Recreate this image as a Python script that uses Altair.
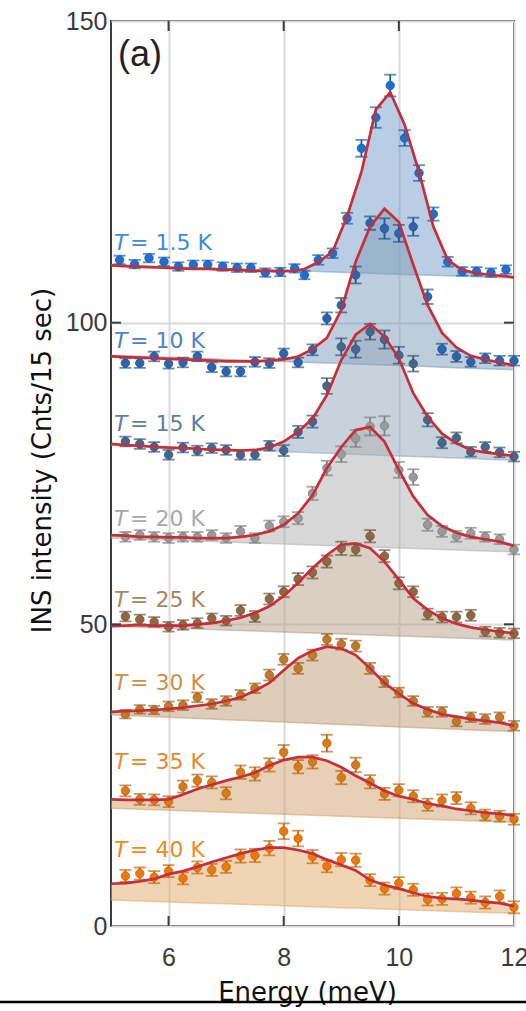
import pandas as pd
import altair as alt

# ---------------------------------------------------------------------------
# Energy transfer grids (meV)
# ---------------------------------------------------------------------------
energy_1p5K = [5.15, 5.41, 5.66, 5.92, 6.17, 6.43, 6.68, 6.94, 7.19, 7.43,
               7.68, 7.94, 8.19, 8.36, 8.60, 8.85, 9.10, 9.35, 9.60, 9.85,
               10.10, 10.35, 10.60, 10.85, 11.10, 11.35, 11.60, 11.86]
energy = [5.25, 5.5, 5.75, 6.0, 6.25, 6.5, 6.75, 7.0, 7.25, 7.5,
          7.75, 8.0, 8.25, 8.5, 8.75, 9.0, 9.25, 9.5, 9.75, 10.0,
          10.25, 10.5, 10.75, 11.0, 11.25, 11.5, 11.75, 12.0]
fit_energy_1p5K = [5.0] + energy_1p5K + [12.0]
fit_energy = [5.0] + energy

temps = ["1.5", "10", "15", "20", "25", "30", "35", "40"]

# Measured intensities (vertically offset per temperature)
counts = {
    "1.5": [110.4, 109.7, 110.7, 110.1, 109.3, 109.6, 109.6, 109.3, 109.1, 109.1,
            108.3, 108.4, 109.0, 107.9, 110.4, 111.5, 117.3, 128.9, 134.0, 139.3,
            130.6, 124.8, 118.0, 110.1, 108.5, 108.5, 108.3, 108.8],
    "10": [93.3, 93.3, 94.4, 93.2, 93.4, 94.4, 92.6, 91.9, 91.9, 93.5,
           93.3, 94.9, 93.4, 95.5, 100.7, 102.9, 107.9, 116.5, 115.6, 114.8,
           115.9, 104.3, 95.6, 94.4, 93.5, 94.1, 93.7, 93.7],
    "15": [80.3, 79.9, 79.4, 78.1, 79.3, 78.8, 79.2, 78.9, 78.1, 78.1,
           79.6, 78.8, 81.9, 83.6, 89.5, 96.0, 95.6, 98.5, 97.2, 94.6,
           93.2, 83.9, 80.1, 80.9, 78.6, 79.4, 78.5, 77.8],
    "20": [64.5, 64.8, 64.5, 64.3, 64.5, 64.5, 64.8, 64.3, 65.4, 64.3,
           66.3, 67.0, 67.6, 71.7, 75.9, 78.2, 80.8, 82.8, 82.9, 75.6,
           74.4, 66.5, 65.4, 64.6, 65.1, 64.5, 64.1, 62.4],
    "25": [51.3, 50.8, 50.4, 49.6, 49.9, 50.2, 51.0, 50.6, 52.3, 51.3,
           54.2, 55.4, 57.5, 58.6, 60.4, 62.6, 62.4, 64.6, 61.3, 56.8,
           55.4, 51.7, 51.2, 51.2, 51.5, 48.8, 48.6, 48.5],
    "30": [35.1, 35.9, 35.8, 36.4, 36.6, 37.9, 36.8, 37.3, 38.3, 39.4,
           41.6, 44.2, 42.7, 44.9, 47.5, 46.7, 46.4, 42.7, 40.5, 38.7,
           37.3, 35.5, 35.5, 33.9, 34.6, 34.3, 34.6, 33.2],
    "35": [22.4, 21.0, 20.9, 20.6, 23.1, 24.1, 23.8, 22.0, 25.5, 25.2,
           26.7, 28.8, 26.4, 27.2, 30.3, 24.6, 26.7, 23.9, 21.9, 22.5,
           21.5, 20.1, 20.8, 21.2, 19.5, 18.4, 18.2, 17.7],
    "40": [8.3, 8.7, 8.1, 9.1, 7.9, 9.7, 9.3, 9.8, 11.6, 11.7,
           12.9, 15.7, 14.5, 11.5, 9.9, 11.0, 10.9, 7.6, 6.2, 7.1,
           6.0, 4.4, 4.5, 5.4, 4.7, 3.9, 4.9, 3.1],
}

# Statistical error bars
errors = {
    "1.5": [0.7, 0.7, 0.7, 0.7, 0.7, 0.7, 0.7, 0.7, 0.7, 0.7, 0.7, 0.7, 0.7, 0.7,
            0.8, 0.8, 0.9, 1.4, 1.7, 1.8, 1.3, 1.3, 1.1, 0.8, 0.7, 0.7, 0.7, 0.7],
    "10": [0.8, 0.8, 0.8, 0.8, 0.8, 0.8, 0.8, 0.8, 0.8, 0.8, 0.8, 0.8, 0.8, 0.9,
           1.0, 1.2, 1.4, 1.1, 1.7, 1.4, 1.5, 1.2, 0.9, 0.9, 0.8, 0.8, 0.8, 0.8],
    "15": [0.8, 0.8, 0.8, 0.8, 0.8, 0.8, 0.8, 0.8, 0.8, 0.8, 0.8, 0.9, 1.0, 1.0,
           1.3, 1.4, 1.4, 1.3, 1.5, 1.4, 1.3, 1.1, 0.9, 0.9, 0.8, 0.8, 0.8, 0.8],
    "20": [0.8, 0.8, 0.8, 0.8, 0.8, 0.8, 0.8, 0.8, 0.9, 0.8, 0.9, 0.9, 1.0, 1.1,
           1.2, 1.3, 1.4, 1.5, 1.6, 1.3, 1.3, 1.0, 0.9, 0.9, 0.9, 0.8, 0.8, 0.8],
    "25": [0.8, 0.8, 0.8, 0.8, 0.8, 0.8, 0.8, 0.8, 0.9, 0.9, 0.9, 0.9, 1.0, 1.0,
           1.0, 1.1, 1.0, 1.0, 1.0, 1.0, 0.9, 0.9, 0.9, 0.9, 0.9, 0.8, 0.8, 0.8],
    "30": [0.7, 0.7, 0.7, 0.8, 0.8, 0.8, 0.8, 0.8, 0.8, 0.8, 0.9, 0.9, 0.9, 0.9,
           0.9, 0.9, 0.9, 0.9, 0.9, 0.8, 0.8, 0.8, 0.8, 0.8, 0.8, 0.8, 0.8, 0.8],
    "35": [0.9, 0.9, 0.9, 0.9, 1.0, 1.0, 1.0, 1.0, 1.1, 1.1, 1.1, 1.2, 1.1, 1.1,
           1.4, 1.1, 1.2, 1.1, 1.0, 1.0, 1.0, 1.0, 1.0, 1.0, 1.0, 0.9, 0.9, 0.9],
    "40": [1.0, 1.0, 1.0, 1.0, 1.0, 1.0, 1.0, 1.0, 1.1, 1.1, 1.2, 1.3, 1.3, 1.1,
           1.0, 1.1, 1.1, 1.0, 1.0, 1.0, 1.0, 1.0, 1.0, 1.0, 1.0, 1.0, 1.0, 1.0],
}

# Fitted line shapes (background + mode)
fits = {
    "1.5": [109.5, 109.4, 109.3, 109.2, 109.1, 109.0, 108.9, 108.9, 108.8, 108.8,
            108.6, 108.6, 108.5, 108.6, 108.9, 110.0, 111.8, 117.6, 125.0, 135.3,
            138.2, 132.8, 125.0, 115.9, 110.4, 108.7, 108.2, 107.9, 107.7, 107.5],
    "10": [94.4, 94.3, 94.2, 94.1, 94.0, 93.9, 93.8, 93.7, 93.6, 93.6,
           93.6, 93.7, 93.9, 94.4, 95.6, 97.5, 102.1, 110.1, 115.9, 118.9,
           116.7, 109.6, 102.9, 98.3, 95.9, 94.5, 93.9, 93.4, 92.9],
    "15": [79.9, 79.7, 79.6, 79.4, 79.3, 79.2, 79.1, 78.9, 78.9, 78.8,
           78.9, 79.3, 80.3, 81.9, 84.1, 88.0, 93.8, 98.0, 99.8, 97.7,
           94.1, 88.3, 84.4, 81.6, 80.0, 78.9, 78.5, 78.2, 77.9],
    "20": [64.8, 64.7, 64.5, 64.5, 64.4, 64.4, 64.3, 64.3, 64.3, 64.5,
           64.8, 65.4, 66.5, 68.4, 71.4, 75.9, 79.4, 82.2, 82.7, 80.3,
           75.6, 71.2, 68.1, 66.3, 65.2, 64.5, 64.1, 63.7, 63.0],
    "25": [49.7, 49.8, 49.9, 49.8, 49.8, 49.8, 50.0, 50.2, 50.6, 51.1,
           51.9, 53.0, 54.7, 56.9, 59.3, 61.5, 63.2, 63.4, 62.6, 60.4,
           57.4, 54.3, 52.4, 51.0, 50.1, 49.5, 49.1, 48.8, 48.5],
    "30": [35.5, 35.6, 35.7, 35.8, 36.0, 36.2, 36.5, 36.8, 37.3, 37.9,
           39.0, 40.3, 42.4, 44.4, 45.6, 46.3, 46.0, 44.9, 42.7, 40.3,
           38.5, 36.9, 35.9, 35.1, 34.7, 34.3, 34.0, 33.7, 33.2],
    "35": [21.0, 20.9, 20.9, 20.9, 21.0, 21.8, 22.7, 23.4, 24.1, 24.7,
           25.4, 26.6, 27.5, 28.0, 28.0, 27.4, 26.3, 24.9, 23.7, 22.4,
           21.5, 21.0, 20.3, 19.9, 19.4, 19.1, 18.8, 18.6, 18.3],
    "40": [7.0, 7.1, 7.4, 7.8, 8.6, 9.1, 9.8, 10.6, 11.3, 12.0,
           12.6, 13.0, 13.0, 12.6, 12.0, 11.0, 10.1, 9.2, 7.6, 6.8,
           6.2, 5.5, 4.9, 4.6, 4.5, 4.3, 4.0, 3.8, 3.3],
}

# Linear background of each fit at 5 and 12 meV
background = {
    "1.5": (109.6, 107.4), "10": (94.6, 92.2), "15": (79.7, 77.2),
    "20": (64.3, 62.0), "25": (49.7, 47.4), "30": (35.0, 32.2),
    "35": (19.5, 17.2), "40": (4.3, 2.1),
}

# Styling per temperature
point_color = {"1.5": "#1f6fd0", "10": "#2c64ad", "15": "#44678e", "20": "#9a9a9a",
               "25": "#8c6944", "30": "#c0782a", "35": "#d97a18", "40": "#ea780c"}
edge_color = {"1.5": "#1a5ea8", "10": "#24548e", "15": "#385675", "20": "#808080",
              "25": "#74573a", "30": "#9f6425", "35": "#b86616", "40": "#c8680c"}
label_color = {"1.5": "#3d8be0", "10": "#4a84c6", "15": "#5d7fa3", "20": "#a9a9a9",
               "25": "#a8865f", "30": "#cf8f45", "35": "#e58b2e", "40": "#f08a1c"}
fill_color = {"1.5": "#739dc9", "10": "#7d9bb9", "15": "#91a5b9", "20": "#afafaf",
              "25": "#b59f87", "30": "#bd9b73", "35": "#d1a16d", "40": "#e1a969"}
# Baseline of each temperature label, in intensity units
label_anchor = {"1.5": 112.05, "10": 95.8, "15": 82.05, "20": 66.3,
                "25": 52.9, "30": 39.1, "35": 26.0, "40": 11.5}

# ---------------------------------------------------------------------------
# Tables
# ---------------------------------------------------------------------------
obs_rows, fit_rows, lab_rows = [], [], []
for t in temps:
    E = energy_1p5K if t == "1.5" else energy
    FE = fit_energy_1p5K if t == "1.5" else fit_energy
    for e, c, s in zip(E, counts[t], errors[t]):
        obs_rows.append(dict(T=t, E=e, I=c, lo=c - s, hi=c + s,
                             pc=point_color[t], ec=edge_color[t]))
    b0, b1 = background[t]
    for e, f in zip(FE, fits[t]):
        fit_rows.append(dict(T=t, E=e, fit=f, bg=b0 + (b1 - b0) * (e - 5.0) / 7.0,
                             fc=fill_color[t]))
    lab_rows.append(dict(T=t, txt=f"= {t} K", ly=label_anchor[t], lc=label_color[t]))

obs = pd.DataFrame(obs_rows)
fit = pd.DataFrame(fit_rows)
labels = pd.DataFrame(lab_rows)

W, H = 403, 905
XTITLE = "Energy (meV)"
YTITLE = "INS intensity (Cnts/15 sec)"

xscale = alt.Scale(domain=[5, 12], nice=False, zero=False)
yscale = alt.Scale(domain=[0, 150], nice=False, zero=False)

xaxis = alt.Axis(values=[6, 8, 10, 12], format="d", labelFont="Liberation Sans",
                 labelFontSize=25, labelColor="#3a3a3a", labelPadding=19,
                 labelFlush=False, labelOverlap=False, ticks=False, tickSize=0,
                 domain=False, grid=True, gridColor="#dadada", gridWidth=2,
                 titleFont="DejaVu Sans", titleFontSize=26, titleFontWeight="normal",
                 titleColor="#111111", titleX=196, titleY=74,
                 titleBaseline="alphabetic", titleAlign="center")
yaxis = alt.Axis(values=[0, 50, 100, 150], format="d", labelFont="Liberation Sans",
                 labelFontSize=25, labelColor="#3a3a3a", labelPadding=4,
                 labelFlush=False, labelOverlap=False, ticks=False, tickSize=0,
                 domain=False, grid=True, gridColor="#dadada", gridWidth=2,
                 titleFont="DejaVu Sans", titleFontSize=26, titleFontWeight="normal",
                 titleColor="#111111", titleX=-69, titleY=439, titleAngle=-90,
                 titleBaseline="middle", titleAlign="center")


def X(field="E"):
    return alt.X(f"{field}:Q", scale=xscale, axis=xaxis, title=XTITLE)


def Y(field):
    return alt.Y(f"{field}:Q", scale=yscale, axis=yaxis, title=YTITLE, stack=None)


base_fit = alt.Chart(fit)
base_obs = alt.Chart(obs)

# shaded spectral weight between fit and background
fills = base_fit.mark_area(opacity=0.5).encode(
    x=X(), y=Y("fit"), y2="bg:Q",
    color=alt.Color("fc:N", scale=None), detail="T:N")

bg_edge = base_fit.mark_line(strokeWidth=1.5, opacity=0.55).encode(
    x=X(), y=Y("bg"), color=alt.Color("fc:N", scale=None), detail="T:N")

bars = base_obs.mark_rule(strokeWidth=1.8).encode(
    x=X(), y=Y("lo"), y2="hi:Q", color=alt.Color("ec:N", scale=None))

cap_lo = base_obs.mark_tick(orient="horizontal", size=12, thickness=1.8).encode(
    x=X(), y=Y("lo"), color=alt.Color("ec:N", scale=None))
cap_hi = base_obs.mark_tick(orient="horizontal", size=12, thickness=1.8).encode(
    x=X(), y=Y("hi"), color=alt.Color("ec:N", scale=None))

points = base_obs.mark_point(filled=True, size=72, opacity=1, strokeWidth=0.8).encode(
    x=X(), y=Y("I"), fill=alt.Fill("pc:N", scale=None),
    stroke=alt.Stroke("ec:N", scale=None))

curves = base_fit.mark_line(color="#c62f3a", strokeWidth=2.7).encode(
    x=X(), y=Y("fit"), detail="T:N")

lab_base = alt.Chart(labels)
lab_T = lab_base.mark_text(text="T", font="DejaVu Sans", fontSize=22, fontStyle="italic",
                           align="left", baseline="alphabetic").encode(
    x=alt.value(3), y=Y("ly"), color=alt.Color("lc:N", scale=None))
lab_rest = lab_base.mark_text(font="DejaVu Sans", fontSize=22, align="left",
                              baseline="alphabetic").encode(
    x=alt.value(19), y=Y("ly"), text="txt:N", color=alt.Color("lc:N", scale=None))

panel = alt.Chart(pd.DataFrame({"txt": ["(a)"]})).mark_text(
    font="Liberation Sans", fontSize=36, align="left", baseline="alphabetic",
    color="#222222").encode(x=alt.value(7), y=alt.value(45), text="txt:N")

# inward ticks on all four sides of the frame
xt = alt.Chart(pd.DataFrame({"E": [6, 8, 10]}))
yt = alt.Chart(pd.DataFrame({"I": [50, 100]}))
tick_style = dict(color="#3c3c3c", strokeWidth=2)
ticks_top = xt.mark_rule(**tick_style).encode(x=X(), y=alt.value(0), y2=alt.value(10))
ticks_bot = xt.mark_rule(**tick_style).encode(x=X(), y=alt.value(H - 10), y2=alt.value(H))
ticks_left = yt.mark_rule(**tick_style).encode(y=Y("I"), x=alt.value(0), x2=alt.value(10))
ticks_right = yt.mark_rule(**tick_style).encode(y=Y("I"), x=alt.value(W - 10), x2=alt.value(W))

rule_bottom = alt.Chart(pd.DataFrame({"k": [0]})).mark_rule(
    color="#000000", strokeWidth=2.5).encode(
    x=alt.value(-111), x2=alt.value(W + 12), y=alt.value(981))

chart = alt.layer(
    fills, bg_edge, bars, cap_lo, cap_hi, points, curves,
    lab_T, lab_rest, panel, ticks_top, ticks_bot, ticks_left, ticks_right, rule_bottom,
).properties(
    width=W, height=H,
    padding={"left": 111, "top": 21, "right": 12, "bottom": 85},
    autosize=alt.AutoSizeParams(type="none"),
    background="white",
).configure_view(stroke="#3c3c3c", strokeWidth=2)

chart.save("out.html", embed_options={"renderer": "svg", "actions": False})
